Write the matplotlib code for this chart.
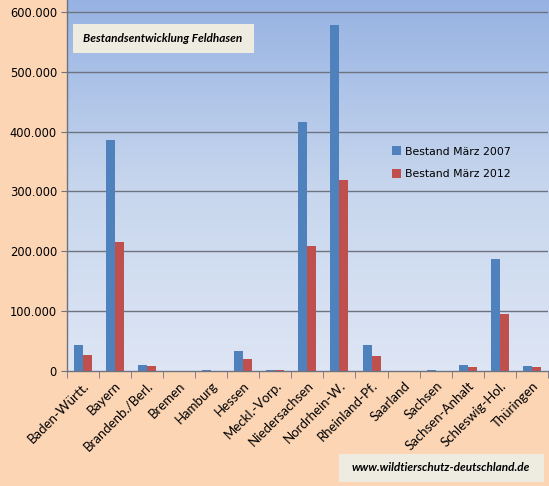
import numpy as np
import matplotlib.pyplot as plt
from matplotlib.patches import Rectangle

states = ['Baden-Württ.', 'Bayern', 'Brandenb./Berl.', 'Bremen', 'Hamburg', 'Hessen',
          'Meckl.-Vorp.', 'Niedersachsen', 'Nordrhein-W.', 'Rheinland-Pf.', 'Saarland',
          'Sachsen', 'Sachsen-Anhalt', 'Schleswig-Hol.', 'Thüringen']
bestand_2007 = [43500, 386000, 10500, 0, 1800, 33500, 1500, 416000, 578500, 43000, 0,
                1800, 10000, 188000, 8300]
bestand_2012 = [27000, 216000, 8500, 0, 400, 20500, 1500, 209000, 319000, 25000, 0,
                0, 6500, 95000, 6500]
yticks = [0, 100000, 200000, 300000, 400000, 500000, 600000]
ytick_labels = ['0', '100.000', '200.000', '300.000', '400.000', '500.000', '600.000']

bg = '#FCD5B5'
fig = plt.figure(figsize=(5.49, 4.86), dpi=100, facecolor=bg)
ax = fig.add_axes([66.7 / 549, 115 / 486, (548 - 66.7) / 549, 371 / 486])

x = np.arange(len(states))
w = 0.28
n = len(states)

# gradient plot area (row 0 = top)
grad = np.linspace(0, 1, 256).reshape(-1, 1, 1)
top = np.array([0.59, 0.70, 0.89])
mid = np.array([0.78, 0.84, 0.93])
bot = np.array([0.87, 0.90, 0.96])
cols = np.where(grad < 0.5, top + (mid - top) * (grad / 0.5),
                mid + (bot - mid) * ((grad - 0.5) / 0.5))
ax.imshow(cols, extent=[-0.5, n - 0.5, 0, 620000], aspect='auto', zorder=0,
          origin='upper')
ax.set_xlim(-0.5, n - 0.5)
ax.set_ylim(0, 620000)

for yv in yticks[1:]:
    ax.axhline(yv, color='#6E7380', lw=1.0, zorder=1)

ax.bar(x - w / 2, bestand_2007, w, color='#4F81BD', zorder=2, label='Bestand März 2007')
ax.bar(x + w / 2, bestand_2012, w, color='#C0504D', zorder=2, label='Bestand März 2012')

ax.set_yticks(yticks)
ax.set_yticklabels(ytick_labels, fontsize=8.3, family='DejaVu Sans')
ax.set_xticks(x)
ax.set_xticklabels(states, rotation=45, ha='right', rotation_mode='anchor',
                   fontsize=9.5, family='Lato')
ax.tick_params(axis='x', length=0, pad=6)
ax.set_xticks(np.arange(-0.5, n + 0.5, 1), minor=True)
ax.tick_params(axis='x', which='minor', length=5, color='#6E7380', direction='out')
ax.tick_params(axis='y', length=4, color='#6E7380', direction='out', pad=3)

for s in ['top', 'right']:
    ax.spines[s].set_visible(False)
for s in ['left', 'bottom']:
    ax.spines[s].set_color('#6E7380')
    ax.spines[s].set_linewidth(1.0)

leg = ax.legend(loc='upper left', bbox_to_anchor=(0.655, 0.632), frameon=False,
                prop={'family': 'DejaVu Sans', 'size': 7.8}, handlelength=0.85,
                handleheight=0.9, handletextpad=0.35, labelspacing=1.15)

# title box
fig.patches.append(Rectangle((73 / 549, 1 - 53 / 486), 181 / 549, 29 / 486,
                             transform=fig.transFigure, facecolor='#EEECE1',
                             edgecolor='none', zorder=5))
fig.text(163 / 549, 1 - 38 / 486, 'Bestandsentwicklung Feldhasen', fontsize=8.5,
         family='Lato', fontweight='bold', fontstyle='italic', ha='center',
         va='center', zorder=6)

# url box
fig.patches.append(Rectangle((339 / 549, 1 - 482 / 486), 205 / 549, 28 / 486,
                             transform=fig.transFigure, facecolor='#EEECE1',
                             edgecolor='none', zorder=5))
fig.text(441 / 549, 1 - 467 / 486, 'www.wildtierschutz-deutschland.de', fontsize=8.5,
         family='Lato', fontweight='bold', fontstyle='italic', ha='center',
         va='center', zorder=6)

fig.savefig('out.png', dpi=100, facecolor=bg)
